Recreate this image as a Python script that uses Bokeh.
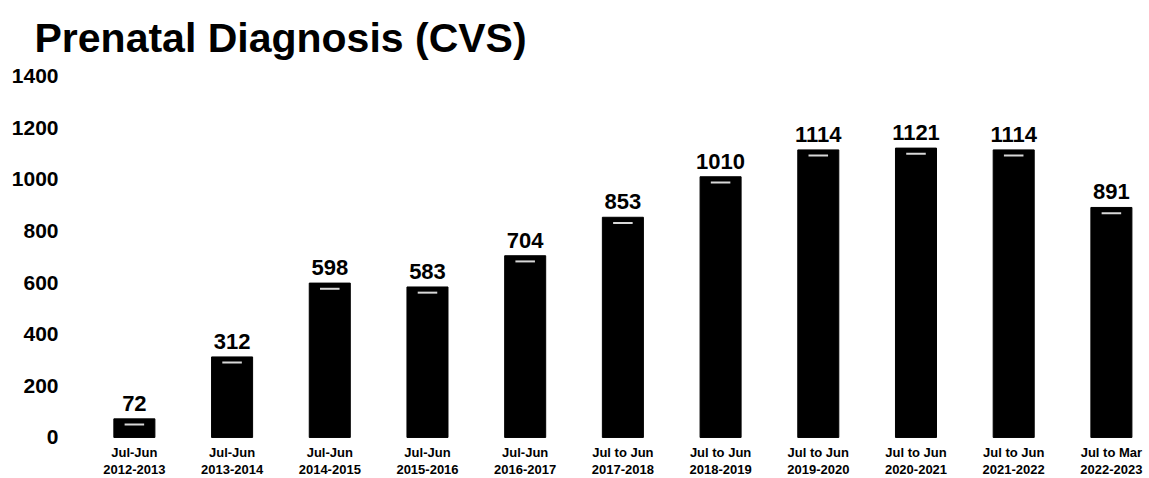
from bokeh.plotting import figure
from bokeh.models import Range1d, ColumnDataSource, FixedTicker
from bokeh.core.properties import value
from bokeh.embed import file_html
from bokeh.resources import INLINE

# Fiscal-year periods and CVS counts
periods = [
    "Jul-Jun\n2012-2013", "Jul-Jun\n2013-2014", "Jul-Jun\n2014-2015",
    "Jul-Jun\n2015-2016", "Jul-Jun\n2016-2017", "Jul to Jun\n2017-2018",
    "Jul to Jun\n2018-2019", "Jul to Jun\n2019-2020", "Jul to Jun\n2020-2021",
    "Jul to Jun\n2021-2022", "Jul to Mar\n2022-2023",
]
cvs_counts = [72, 312, 598, 583, 704, 853, 1010, 1114, 1121, 1114, 891]
y_ticks = [0, 200, 400, 600, 800, 1000, 1200, 1400]

FONT = "Liberation Sans"

xs = list(range(len(periods)))
src = ColumnDataSource(dict(
    x=xs,
    top=cvs_counts,
    zero=[0] * len(xs),
    label=[str(v) for v in cvs_counts],
    period=periods,
    x0=[i - 0.1 for i in xs],
    x1=[i + 0.1 for i in xs],
    hy=[v - 22 for v in cvs_counts],
))

# the frame runs down to the bottom edge so the period names fit under the bars
p = figure(
    width=1149, height=478,
    x_range=Range1d(-0.49, 10.39),
    y_range=Range1d(-159, 1410),
    output_backend="svg", toolbar_location=None,
    min_border_left=86, min_border_right=0,
    min_border_top=70, min_border_bottom=0,
)

p.title.text = "Prenatal Diagnosis (CVS)"
p.title.text_font = FONT
p.title.text_font_size = "41px"
p.title.text_font_style = "bold"
p.title.text_color = "black"
p.title.offset = -52
p.title.standoff = 25

p.vbar(x="x", top="top", bottom=0, width=0.42, source=src,
       fill_color="black", line_color="black")
# light glint near each bar top
p.segment(x0="x0", y0="hy", x1="x1", y1="hy", source=src,
          line_color="#d8d8d8", line_width=2)

p.text(x="x", y="top", text="label", source=src,
       text_align="center", text_baseline="bottom", y_offset=-8,
       text_font=value(FONT), text_font_size="22px",
       text_font_style="bold", text_color="black")

# period names under each bar
p.text(x="x", y="zero", text="period", source=src,
       text_align="center", text_baseline="top", y_offset=8,
       text_font=value(FONT), text_font_size="13px",
       text_font_style="bold", text_color="black",
       text_line_height=1.1)

# axes
p.yaxis.ticker = FixedTicker(ticks=y_ticks)
p.yaxis.axis_line_color = None
p.yaxis.major_tick_line_color = None
p.yaxis.minor_tick_line_color = None
p.yaxis.major_label_standoff = 22
p.yaxis.major_label_text_font = FONT
p.yaxis.major_label_text_font_size = "21px"
p.yaxis.major_label_text_font_style = "bold"
p.yaxis.major_label_text_color = "black"

p.xaxis.visible = False

p.xgrid.grid_line_color = None
p.ygrid.grid_line_color = None
p.outline_line_color = None
p.background_fill_color = "white"
p.border_fill_color = "white"

open("out.html", "w").write(file_html(p, INLINE))
